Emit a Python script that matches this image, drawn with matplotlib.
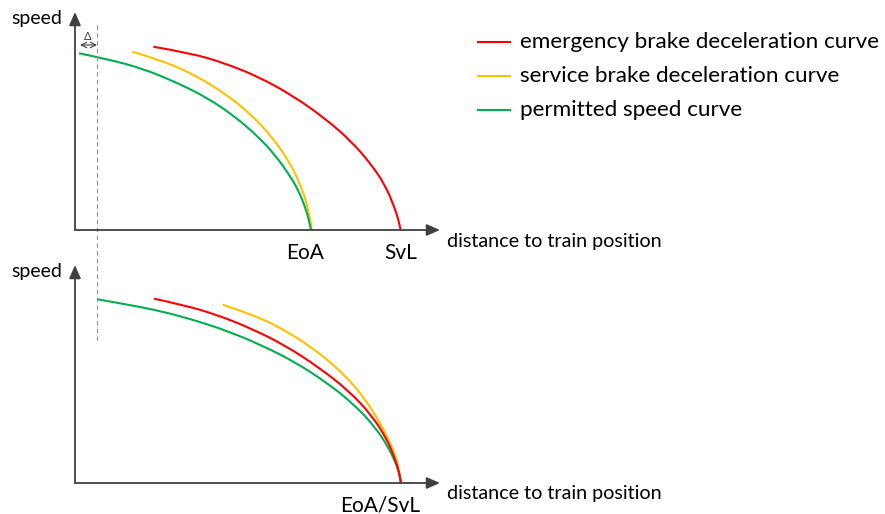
import matplotlib.pyplot as plt
from matplotlib.path import Path
from matplotlib.patches import PathPatch

# curve points read from the picture: distance and speed, measured from each panel's origin
# top panel: separate end points (EoA / SvL)
top_green_x = [4, 33.3, 66.7, 100, 133.3, 160, 183.3, 200, 213.3, 223.3, 230, 234, 236]
top_green_y = [176.7, 170.7, 161.7, 148.3, 131.7, 113.3, 93.3, 75, 56.7, 40, 23.3, 10, 0]
top_yellow_x = [57.3, 83.3, 116.7, 150, 176.7, 196.7, 213.3, 225, 231.7, 235.3, 236.7]
top_yellow_y = [178.3, 170.7, 156.7, 136.7, 115, 93.3, 70, 46.7, 26.7, 10, 0]
top_red_x = [78.3, 116.7, 150, 183.3, 216.7, 250, 276.7, 296.7, 310, 319.3, 324, 325.7]
top_red_y = [183.3, 176.7, 166.7, 153.3, 135, 111.7, 88.3, 65, 45, 23.3, 8.3, 0]

# bottom panel: common end point (EoA/SvL)
bot_green_x = [22.7, 53.3, 86.7, 120, 153.3, 186.7, 220, 253.3, 280, 300, 313.3, 321.7, 325, 326]
bot_green_y = [183.7, 178.3, 171.7, 162.7, 151.7, 137.7, 121, 99.3, 77.7, 56, 36, 17.7, 7.7, 0]
bot_red_x = [79, 110, 143.3, 176.7, 210, 243.3, 273.3, 296.7, 311.7, 320, 324, 326]
bot_red_y = [184.3, 177.7, 167.7, 154.3, 137.7, 116, 92.7, 67.7, 44.3, 24.3, 11, 0]
bot_yellow_x = [147.7, 180, 213.3, 243.3, 270, 290, 306.7, 318.3, 323.3, 326]
bot_yellow_y = [178.3, 167.7, 151, 131, 107.7, 84.3, 57.7, 32.7, 17.7, 0]

labels = ['emergency brake deceleration curve', 'service brake deceleration curve', 'permitted speed curve']
colors = ['#ff0000', '#ffc000', '#00b050']
delta_x = 22  # dashed line position


def smooth_curve(ax, xs, ys, color):
    # quadratic bezier segments: read points act as control points, so the line renders without corners
    pts = list(zip(xs, ys))
    verts = [pts[0]]
    codes = [Path.MOVETO]
    for i in range(1, len(pts) - 1):
        end = pts[-1] if i == len(pts) - 2 else ((pts[i][0] + pts[i + 1][0]) / 2, (pts[i][1] + pts[i + 1][1]) / 2)
        verts += [pts[i], end]
        codes += [Path.CURVE3, Path.CURVE3]
    ax.add_patch(PathPatch(Path(verts, codes), fill=False, edgecolor=color, lw=1.5,
                           capstyle='butt', clip_on=False))


plt.rcParams['font.family'] = ['Lato', 'DejaVu Sans']
W, H = 885, 514
fig = plt.figure(figsize=(W / 100, H / 100), dpi=100)

ax_top = fig.add_axes([75 / W, (H - 230) / H, 365 / W, 218 / H])
ax_bot = fig.add_axes([75 / W, (H - 483) / H, 365 / W, 218 / H])

arrow = dict(arrowstyle='-|>,head_length=0.8,head_width=0.35', color='#404040', lw=1.3,
             shrinkA=0, shrinkB=0)
for ax in (ax_top, ax_bot):
    ax.set_xlim(0, 365)
    ax.set_ylim(0, 218)
    ax.axis('off')
    ax.annotate('', xy=(365, 0), xytext=(0, 0), annotation_clip=False, arrowprops=arrow)
    ax.annotate('', xy=(0, 218), xytext=(0, 0), annotation_clip=False, arrowprops=arrow)
    ax.text(-13, 211, 'speed', ha='right', va='center', fontsize=14)
    ax.text(372, -11, 'distance to train position', ha='left', va='center', fontsize=14.2)

smooth_curve(ax_top, top_red_x, top_red_y, colors[0])
smooth_curve(ax_top, top_yellow_x, top_yellow_y, colors[1])
smooth_curve(ax_top, top_green_x, top_green_y, colors[2])
ax_top.text(top_green_x[-1] - 6, -23, 'EoA', ha='center', va='center', fontsize=15)
ax_top.text(top_red_x[-1], -23, 'SvL', ha='center', va='center', fontsize=15)

smooth_curve(ax_bot, bot_yellow_x, bot_yellow_y, colors[1])
smooth_curve(ax_bot, bot_green_x, bot_green_y, colors[2])
smooth_curve(ax_bot, bot_red_x, bot_red_y, colors[0])
ax_bot.text(bot_red_x[-1] - 21, -22, 'EoA/SvL', ha='center', va='center', fontsize=15)

# dashed reference line and delta marker
ax_top.plot([delta_x, delta_x], [205, -110], color='#909090', lw=0.8, ls=(0, (4, 3)), clip_on=False)
ax_top.annotate('', xy=(delta_x, 185), xytext=(5, 185), annotation_clip=False,
                arrowprops=dict(arrowstyle='<->', color='#404040', lw=0.8, shrinkA=0, shrinkB=0))
ax_top.text(13, 193, 'Δ', ha='center', va='center', fontsize=8, color='#404040')

# legend
for i, (lab, col) in enumerate(zip(labels, colors)):
    y = 1 - [42, 76, 110][i] / H
    fig.add_artist(plt.Line2D([478 / W, 510 / W], [y, y], color=col, lw=1.5))
    fig.text(520 / W, y, lab, ha='left', va='center', fontsize=16.2)

fig.savefig('out.png', dpi=100)
